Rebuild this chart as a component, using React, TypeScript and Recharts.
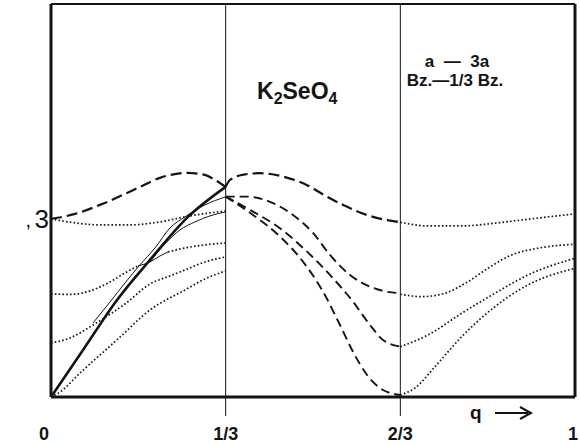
import React from 'react';
import { LineChart, Line, XAxis, YAxis, ReferenceLine } from 'recharts';

// wave vector q (fraction of the a-zone) and frequencies (arbitrary units, tick at 3)
const Y_MAX = 6.62;
const xTicks = [0, 1 / 3, 2 / 3, 1];
const xTickLabels = ['0', '1/3', '2/3', '1'];
const yTicks = [3];

// thick solid acoustic branch (0 .. 1/3)
const thickQ = [0, 0.0611, 0.126, 0.1889, 0.2595, 1 / 3];
const thickW = [0, 0.792, 1.635, 2.309, 3.017, 3.539];

// dashed branches
const dash1LeftQ = [0, 0.0458, 0.0935, 0.1412, 0.1698, 0.208, 0.2595, 0.2939, 0.313, 1 / 3];
const dash1LeftW = [3.0, 3.084, 3.236, 3.421, 3.539, 3.691, 3.775, 3.742, 3.657, 3.539];
const dash1MidQ = [1 / 3, 0.3416, 0.3702, 0.3989, 0.4498, 0.488, 0.5261, 0.5643, 0.6025, 0.6336, 2 / 3];
const dash1MidW = [3.539, 3.657, 3.75, 3.77, 3.696, 3.573, 3.376, 3.207, 3.067, 2.992, 2.944];
const dash2Q = [1 / 3, 0.3735, 0.4237, 0.4618, 0.5, 0.5324, 0.5706, 0.6088, 0.6336, 2 / 3];
const dash2W = [3.376, 3.376, 3.265, 3.067, 2.764, 2.393, 2.056, 1.859, 1.787, 1.748];
const dash3Q = [1 / 3, 0.3855, 0.437, 0.4809, 0.5324, 0.5763, 0.6088, 0.6336, 2 / 3];
const dash3W = [3.376, 3.123, 2.843, 2.511, 2.056, 1.606, 1.213, 0.961, 0.848];
const dash4Q = [1 / 3, 0.3855, 0.437, 0.4809, 0.5191, 0.5515, 0.5763, 0.6031, 0.6336, 2 / 3];
const dash4W = [3.376, 3.067, 2.702, 2.28, 1.775, 1.213, 0.763, 0.371, 0.118, 0.034];

// dotted branches, right segment (2/3 .. 1)
const dotR1Q = [2 / 3, 0.7195, 0.7838, 0.8473, 0.9103, 1];
const dotR1W = [2.944, 2.882, 2.882, 2.928, 2.995, 3.084];
const dotR2Q = [2 / 3, 0.7075, 0.7519, 0.7958, 0.834, 0.8792, 0.9294, 1];
const dotR2W = [1.731, 1.69, 1.748, 1.943, 2.169, 2.393, 2.506, 2.574];
const dotR3Q = [2 / 3, 0.7195, 0.7838, 0.8473, 0.9103, 1];
const dotR3W = [0.848, 1.045, 1.411, 1.748, 2.056, 2.338];
const dotR4Q = [2 / 3, 0.6947, 0.7328, 0.7838, 0.8473, 0.9103, 1];
const dotR4W = [0.034, 0.152, 0.511, 1.016, 1.522, 1.888, 2.169];

// dotted branches, left segment (0 .. 1/3)
const dotL1Q = [0, 0.0458, 0.0935, 0.1508, 0.208, 0.2653, 0.3034, 1 / 3];
const dotL1W = [3.0, 2.933, 2.899, 2.899, 2.949, 3.051, 3.101, 3.135];
const dotL2aQ = [0, 0.0363, 0.0744, 0.1126, 0.1412, 0.166];
const dotL2aW = [1.736, 1.728, 1.787, 1.938, 2.09, 2.208];
const dotL2bQ = [0.2233, 0.2557, 0.2939, 1 / 3];
const dotL2bW = [2.444, 2.511, 2.562, 2.595];
const dotL3Q = [0, 0.0363, 0.0802, 0.1164, 0.1412, 0.1889, 0.2271, 0.2557, 0.2939, 1 / 3];
const dotL3W = [0.91, 0.994, 1.213, 1.416, 1.567, 1.904, 2.039, 2.14, 2.275, 2.36];
const dotL4Q = [0, 0.0172, 0.0553, 0.0935, 0.1279, 0.1889, 0.2557, 0.2939, 1 / 3];
const dotL4W = [0, 0.084, 0.404, 0.708, 0.978, 1.466, 1.803, 1.989, 2.124];

// thin solid connecting branches
const thinAQ = [0.166, 0.1889, 0.208, 0.2233];
const thinAW = [2.208, 2.275, 2.376, 2.444];
const thinBQ = [0.0802, 0.1126, 0.1412, 0.1698, 0.1985, 0.2271, 0.2557, 0.2939, 1 / 3];
const thinBW = [1.247, 1.601, 1.921, 2.225, 2.511, 2.848, 3.034, 3.236, 3.371];
const thinCQ = [0.1889, 0.2176, 0.2462, 0.2748, 0.3034, 1 / 3];
const thinCW = [2.275, 2.579, 2.815, 2.949, 3.051, 3.118];

const pts = (q: number[], w: number[]) => q.map((x, i) => ({ q: x, w: w[i] }));

const INK = '#141414';
const FONT = '"Liberation Sans", Arial, sans-serif';

const thick = { stroke: INK, strokeWidth: 2.6 };
const dashBold = { stroke: INK, strokeWidth: 2.2, strokeDasharray: '11 5' };
const dashN = { stroke: INK, strokeWidth: 1.9, strokeDasharray: '9 5' };
const dotted = { stroke: INK, strokeWidth: 1.7, strokeDasharray: '1.6 2.2' };
const thin = { stroke: INK, strokeWidth: 1 };

const series: { q: number[]; w: number[]; s: any }[] = [
  { q: dotL1Q, w: dotL1W, s: dotted },
  { q: dotL2aQ, w: dotL2aW, s: dotted },
  { q: dotL2bQ, w: dotL2bW, s: dotted },
  { q: dotL3Q, w: dotL3W, s: dotted },
  { q: dotL4Q, w: dotL4W, s: dotted },
  { q: dotR1Q, w: dotR1W, s: dotted },
  { q: dotR2Q, w: dotR2W, s: dotted },
  { q: dotR3Q, w: dotR3W, s: dotted },
  { q: dotR4Q, w: dotR4W, s: dotted },
  { q: thinAQ, w: thinAW, s: thin },
  { q: thinBQ, w: thinBW, s: thin },
  { q: thinCQ, w: thinCW, s: thin },
  { q: dash2Q, w: dash2W, s: dashN },
  { q: dash3Q, w: dash3W, s: dashN },
  { q: dash4Q, w: dash4W, s: dashN },
  { q: dash1LeftQ, w: dash1LeftW, s: dashBold },
  { q: dash1MidQ, w: dash1MidW, s: dashBold },
  { q: thickQ, w: thickW, s: thick },
];

const XTick = (props: any) => {
  const { x, y, index } = props;
  const label = xTickLabels[index] ?? '';
  const shift = index === 0 ? -7 : index === xTicks.length - 1 ? -2 : 0;
  const mid = index === 1 || index === 2;
  return (
    <g>
      {mid && <line x1={x} y1={y} x2={x} y2={y + 19} stroke={INK} strokeWidth={1} />}
      <text x={x + shift} y={y + 43} textAnchor="middle" fontFamily={FONT} fontWeight={700} fontSize={18} fill={INK}>
        {label}
      </text>
    </g>
  );
};

const YTick = (props: any) => {
  const { x, y } = props;
  return (
    <g>
      <text x={x - 20} y={y + 8} style={{ fontSize: 20, fontFamily: FONT }} fill={INK} textAnchor="end">,</text>
      <text x={x - 2} y={y + 9} style={{ fontSize: 26, fontFamily: FONT }} fill={INK} textAnchor="end">3</text>
    </g>
  );
};

export default function App() {
  return (
    <div style={{ position: 'absolute', left: 0, top: 0, width: 580, height: 444, background: '#fff' }}>
      <LineChart width={580} height={444} margin={{ top: 4, right: 5, bottom: 0, left: 0 }}>
        <XAxis
          dataKey="q"
          type="number"
          domain={[0, 1]}
          ticks={xTicks}
          tick={<XTick />}
          tickLine={false}
          tickSize={0}
          tickMargin={0}
          height={47}
          axisLine={{ stroke: INK, strokeWidth: 3 }}
          allowDataOverflow
        />
        <YAxis
          type="number"
          domain={[0, Y_MAX]}
          ticks={yTicks}
          tick={<YTick />}
          tickLine={false}
          tickSize={0}
          tickMargin={0}
          width={51}
          axisLine={{ stroke: INK, strokeWidth: 3 }}
          allowDataOverflow
        />
        <ReferenceLine x={1 / 3} stroke={INK} strokeWidth={1} />
        <ReferenceLine x={2 / 3} stroke={INK} strokeWidth={1} />
        <ReferenceLine x={1} stroke={INK} strokeWidth={3} />
        <ReferenceLine y={Y_MAX} stroke={INK} strokeWidth={2} />
        {series.map((sr, i) => (
          <Line
            key={i}
            data={pts(sr.q, sr.w)}
            dataKey="w"
            type="monotone"
            dot={false}
            activeDot={false}
            isAnimationActive={false}
            fill="none"
            {...sr.s}
          />
        ))}
        <text x={257} y={99} fontFamily={FONT} fontWeight={700} fontSize={23} fill={INK}>
          K<tspan fontSize={16} dy={5}>2</tspan>
          <tspan dy={-5}>SeO</tspan>
          <tspan fontSize={16} dy={5}>4</tspan>
        </text>
        <text x={457} y={67} textAnchor="middle" fontFamily={FONT} fontWeight={600} fontSize={17} fill={INK} style={{ whiteSpace: 'pre' }}>
          {'a  —  3a'}
        </text>
        <text x={455} y={86} textAnchor="middle" fontFamily={FONT} fontWeight={600} fontSize={17} fill={INK}>
          Bz.—1/3 Bz.
        </text>
        <text x={470} y={419} fontFamily={FONT} fontWeight={700} fontSize={19} fill={INK}>
          q
        </text>
        <line x1={495} y1={413} x2={528} y2={413} stroke={INK} strokeWidth={2} />
        <path d="M520 407 L531 413 L520 419" stroke={INK} strokeWidth={2} fill="none" />
      </LineChart>
    </div>
  );
}
